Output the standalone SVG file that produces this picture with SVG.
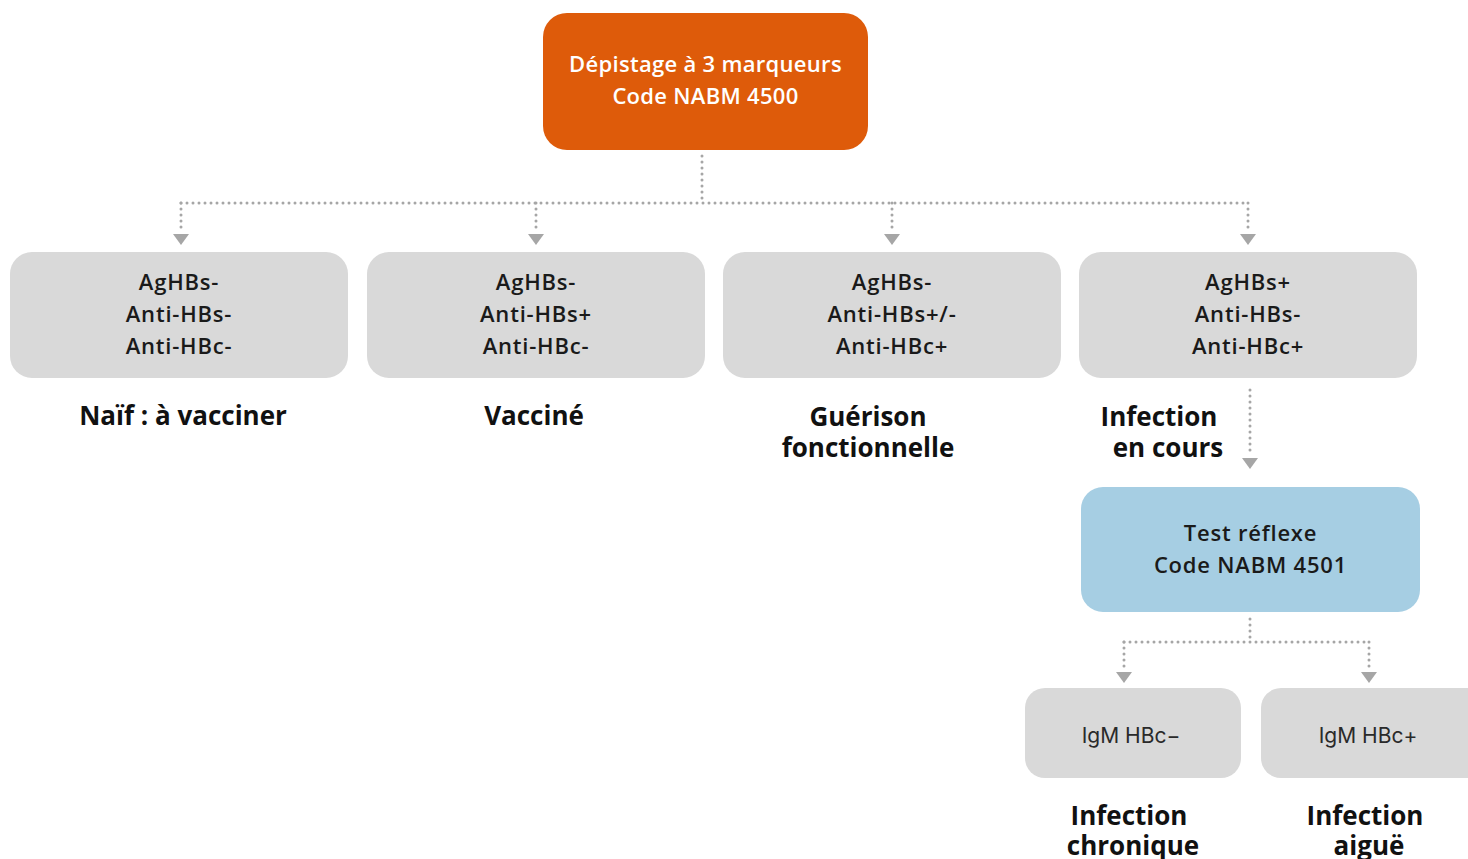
<svg xmlns="http://www.w3.org/2000/svg" width="1468" height="859" viewBox="0 0 1468 859">
  <style>
    .box-grey { fill: #d9d9d9; }
    .box-orange { fill: #de5b0a; }
    .box-blue { fill: #a6cee3; }
    .t { font-family: "Open Sans", "Noto Sans", "Liberation Sans", sans-serif; text-anchor: middle; }
    .t-white { fill: #ffffff; font-size: 22px; font-weight: 600; letter-spacing: 0.3px; }
    .t-box { fill: #1a1a1a; font-size: 22px; font-weight: 600; letter-spacing: 0.8px; }
    .t-light { font-family: Inter, "Noto Sans", sans-serif; fill: #2a2a2a; font-size: 21px; font-weight: 400; text-anchor: middle; }
    .t-label { fill: #111111; font-size: 26px; font-weight: 700; }
    .dots { fill: none; stroke: #a6a6a6; stroke-width: 3; stroke-linecap: round; stroke-dasharray: 0 6; }
    .head { fill: #a6a6a6; }
  </style>
  <defs>
    <path id="arrowhead" class="head" d="M -8 -6 L 8 -6 L 0 5 Z"/>
  </defs>

  <!-- connectors -->
  <g id="connectors">
    <path class="dots" d="M 702 156 L 702 203"/>
    <path class="dots" d="M 181 203 L 1248 203"/>
    <path class="dots" d="M 181 203 L 181 232"/>
    <path class="dots" d="M 536 203 L 536 232"/>
    <path class="dots" d="M 892 203 L 892 232"/>
    <path class="dots" d="M 1248 203 L 1248 232"/>
    <use href="#arrowhead" x="181" y="240"/>
    <use href="#arrowhead" x="536" y="240"/>
    <use href="#arrowhead" x="892" y="240"/>
    <use href="#arrowhead" x="1248" y="240"/>

    <path class="dots" d="M 1250 390 L 1250 456"/>
    <use href="#arrowhead" x="1250" y="464"/>

    <path class="dots" d="M 1250 619 L 1250 642"/>
    <path class="dots" d="M 1124 642 L 1369 642"/>
    <path class="dots" d="M 1124 642 L 1124 670"/>
    <path class="dots" d="M 1369 642 L 1369 670"/>
    <use href="#arrowhead" x="1124" y="678"/>
    <use href="#arrowhead" x="1369" y="678"/>
  </g>

  <!-- top screening node -->
  <g id="node-screening">
    <rect class="box-orange" x="543" y="13" width="325" height="137" rx="24"/>
    <text class="t t-white" x="705.5" y="72">Dépistage à 3 marqueurs</text>
    <text class="t t-white" x="705.5" y="104">Code NABM 4500</text>
  </g>

  <g id="node-naive">
    <rect class="box-grey" x="10" y="252" width="338" height="126" rx="22"/>
    <text class="t t-box" x="179" y="290">AgHBs-</text>
    <text class="t t-box" x="179" y="322">Anti-HBs-</text>
    <text class="t t-box" x="179" y="354">Anti-HBc-</text>
    <text class="t t-label" x="183" y="425">Naïf : à vacciner</text>
  </g>

  <g id="node-vaccinated">
    <rect class="box-grey" x="367" y="252" width="338" height="126" rx="22"/>
    <text class="t t-box" x="536" y="290">AgHBs-</text>
    <text class="t t-box" x="536" y="322">Anti-HBs+</text>
    <text class="t t-box" x="536" y="354">Anti-HBc-</text>
    <text class="t t-label" x="534" y="425">Vacciné</text>
  </g>

  <g id="node-recovery">
    <rect class="box-grey" x="723" y="252" width="338" height="126" rx="22"/>
    <text class="t t-box" x="892" y="290">AgHBs-</text>
    <text class="t t-box" x="892" y="322">Anti-HBs+/-</text>
    <text class="t t-box" x="892" y="354">Anti-HBc+</text>
    <text class="t t-label" x="868" y="426">Guérison</text>
    <text class="t t-label" x="868" y="457">fonctionnelle</text>
  </g>

  <g id="node-infection">
    <rect class="box-grey" x="1079" y="252" width="338" height="126" rx="22"/>
    <text class="t t-box" x="1248" y="290">AgHBs+</text>
    <text class="t t-box" x="1248" y="322">Anti-HBs-</text>
    <text class="t t-box" x="1248" y="354">Anti-HBc+</text>
    <text class="t t-label" x="1159" y="426">Infection</text>
    <text class="t t-label" x="1168" y="457">en cours</text>
  </g>

  <g id="node-reflex">
    <rect class="box-blue" x="1081" y="487" width="339" height="125" rx="22"/>
    <text class="t t-box" x="1250.5" y="541">Test réflexe</text>
    <text class="t t-box" x="1250.5" y="573">Code NABM 4501</text>
  </g>

  <g id="node-igm-neg">
    <rect class="box-grey" x="1025" y="688" width="216" height="90" rx="20"/>
    <text class="t-light" x="1131" y="743">IgM HBc−</text>
    <text class="t t-label" x="1129" y="825">Infection</text>
    <text class="t t-label" x="1133" y="855">chronique</text>
  </g>

  <g id="node-igm-pos">
    <rect class="box-grey" x="1261" y="688" width="230" height="90" rx="20"/>
    <text class="t-light" x="1368" y="743">IgM HBc+</text>
    <text class="t t-label" x="1365" y="825">Infection</text>
    <text class="t t-label" x="1369" y="855">aiguë</text>
  </g>
</svg>
